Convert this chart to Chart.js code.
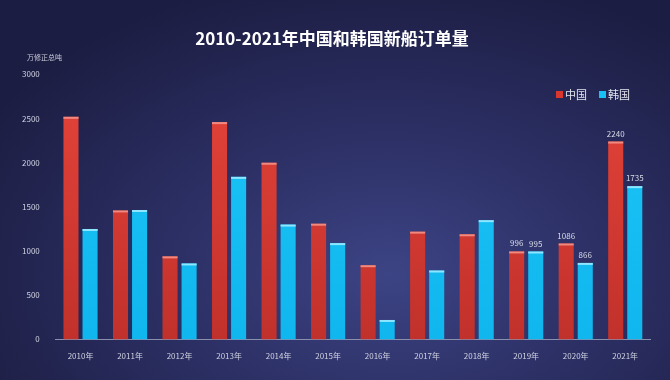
<!DOCTYPE html>
<html>
<head>
<meta charset="utf-8">
<script src="https://cdn.jsdelivr.net/npm/chart.js@4/dist/chart.umd.min.js"></script>
<style>
  html, body {
    margin: 0;
    padding: 0;
    width: 670px;
    height: 380px;
    overflow: hidden;
    background: radial-gradient(ellipse 70% 80% at 58% 72%, #3d4485 0%, #2c3065 45%, #1c1d42 100%);
    font-family: "Noto Sans CJK SC", "Noto Sans", sans-serif;
  }
  #wrap { position: relative; width: 670px; height: 380px; }
</style>
</head>
<body>
<div id="wrap"><canvas id="orderChart" width="670" height="380"></canvas></div>
<script>
const years = ['2010年', '2011年', '2012年', '2013年', '2014年', '2015年', '2016年', '2017年', '2018年', '2019年', '2020年', '2021年'];
const chinaOrders = [2520, 1460, 940, 2460, 2000, 1310, 840, 1220, 1190, 996, 1086, 2240];
const koreaOrders = [1250, 1465, 860, 1840, 1300, 1090, 220, 780, 1350, 995, 866, 1735];
const labeledYears = ['2019年', '2020年', '2021年'];
const yTicks = [0, 500, 1000, 1500, 2000, 2500, 3000];
const unitLabel = '万修正总吨';
const titleText = '2010-2021年中国和韩国新船订单量';

const fontFamily = '"Noto Sans CJK SC", "Noto Sans", sans-serif';

function barGradient(ctx, top, bottom, colors) {
    let g = ctx.createLinearGradient(0, top, 0, bottom);
    g.addColorStop(0, colors[0]);
    g.addColorStop(1, colors[1]);
    return g;
}

// lighter strip on top of each bar + value labels for the last years
const barExtras = {
    id: 'barExtras',
    afterDatasetsDraw(chart) {
        const ctx = chart.ctx;
        const caps = ['#f08a80', '#8fe6ff'];
        chart.data.datasets.forEach((ds, di) => {
            chart.getDatasetMeta(di).data.forEach((bar, i) => {
                const left = bar.x - bar.width / 2;
                ctx.save();
                ctx.fillStyle = caps[di];
                ctx.fillRect(left, bar.y, bar.width, 2);
                if (labeledYears.includes(chart.data.labels[i])) {
                    ctx.fillStyle = '#d8dbe8';
                    ctx.font = '8px ' + fontFamily;
                    ctx.textAlign = 'center';
                    ctx.textBaseline = 'bottom';
                    ctx.fillText(ds.data[i], bar.x, bar.y - 4);
                }
                ctx.restore();
            });
        });
    }
};

// unit text and legend drawn inside the plot area
const overlay = {
    id: 'overlay',
    afterDraw(chart) {
        const ctx = chart.ctx;
        ctx.save();
        ctx.fillStyle = '#c9ccdb';
        ctx.font = '7px ' + fontFamily;
        ctx.textBaseline = 'middle';
        ctx.fillText(unitLabel, 27, 57);

        let x = 556;
        const y = 95;
        ctx.font = '11px ' + fontFamily;
        chart.data.datasets.forEach(ds => {
            ctx.fillStyle = ds.legendColor;
            ctx.fillRect(x, y - 4, 7, 7);
            ctx.fillStyle = '#e4e6f0';
            ctx.fillText(ds.label, x + 9, y);
            x += 9 + ctx.measureText(ds.label).width + 12;
        });
        ctx.restore();
    }
};

function init() {
    const ctx = document.getElementById('orderChart').getContext('2d');
    new Chart(ctx, {
        type: 'bar',
        data: {
            labels: years,
            datasets: [
                {
                    label: '中国',
                    data: chinaOrders,
                    legendColor: '#d9372e',
                    backgroundColor: c => {
                        const a = c.chart.chartArea;
                        if (!a) return '#d9372e';
                        return barGradient(c.chart.ctx, a.top, a.bottom, ['#e5443a', '#c1312b']);
                    },
                    categoryPercentage: 0.77,
                    barPercentage: 0.79
                },
                {
                    label: '韩国',
                    data: koreaOrders,
                    legendColor: '#17c0f4',
                    backgroundColor: c => {
                        const a = c.chart.chartArea;
                        if (!a) return '#17c0f4';
                        return barGradient(c.chart.ctx, a.top, a.bottom, ['#1cc6f7', '#10b6ee']);
                    },
                    categoryPercentage: 0.77,
                    barPercentage: 0.79
                }
            ]
        },
        options: {
            responsive: false,
            animation: false,
            layout: { padding: { left: 14, right: 20, top: 0, bottom: 15 } },
            plugins: {
                legend: { display: false },
                tooltip: { enabled: false },
                title: {
                    display: true,
                    text: titleText,
                    color: '#ffffff',
                    font: { family: fontFamily, size: 17, weight: 'bold' },
                    padding: { top: 28, bottom: 26 }
                }
            },
            scales: {
                x: {
                    grid: { display: false },
                    border: { color: '#8a8fae', width: 1 },
                    ticks: { color: '#d0d3e2', font: { family: fontFamily, size: 8 }, padding: 4 }
                },
                y: {
                    min: 0,
                    max: 3000,
                    afterBuildTicks: axis => { axis.ticks = yTicks.map(v => ({ value: v })); },
                    grid: { display: false },
                    border: { display: false },
                    ticks: {
                        color: '#d0d3e2',
                        font: { family: fontFamily, size: 8 },
                        padding: 8,
                        callback: v => String(v)
                    }
                }
            }
        },
        plugins: [barExtras, overlay]
    });
}

document.addEventListener('DOMContentLoaded', init);
</script>
</body>
</html>
